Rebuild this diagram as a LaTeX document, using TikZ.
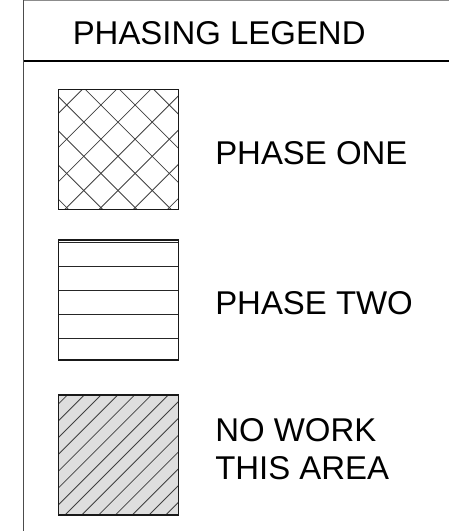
\documentclass[tikz,border=0pt]{standalone}
\usepackage{fontspec}
\setmainfont{Liberation Sans}
\begin{document}
\begin{tikzpicture}[x=0.75pt,y=-0.75pt,
  lbl/.style={anchor=base west,inner sep=0pt,font=\fontsize{24.7}{28.5}\selectfont},
  frameline/.style={draw=black!70,line width=0.8pt},
  keybox/.style={draw=black!90,line width=0.9pt},
  hatchline/.style={draw=black!75,line width=0.6pt}]
\useasboundingbox (0,0) rectangle (449,531);
% frame
\coordinate (tl) at (23.5,0.5);
\coordinate (tr) at (449,0.5);
\coordinate (bl) at (23.5,531);
\coordinate (ml) at (23.5,61);
\coordinate (mr) at (449,61);
\draw[frameline,draw=black!45] (tl) -- (tr);
\draw[frameline] (tl) -- (bl);
\draw[draw=black,line width=0.9pt] (ml) -- (mr);
\node[lbl] (title) at (72.5,45) {PHASING LEGEND};
% box 1: cross hatch
\begin{scope}
\clip (58.3,89.3) rectangle (178.3,209.3);
\foreach \k in {-6,...,6} {
  \draw[hatchline] (0,{38.3+34.2*\k}) -- (300,{338.3+34.2*\k});
  \draw[hatchline] (0,{171.7+34.2*\k}) -- (300,{-128.3+34.2*\k});
}
\end{scope}
\node[keybox,minimum size=90pt,inner sep=0pt] (b1) at (118.3,149.3) {};
\node[lbl] (t1) at (215,164) {PHASE ONE};
% box 2: horizontal lines
\foreach \yy in {242.3,266.3,290.3,314.3,338.3} {
  \draw[hatchline,draw=black!85,line width=0.8pt] (58.3,\yy) -- (178.3,\yy);
}
\node[keybox,minimum size=90pt,inner sep=0pt] (b2) at (118.3,300) {};
\node[lbl] (t2) at (215,314) {PHASE TWO};
% box 3: grey with diagonal hatch
\fill[black!13] (58.3,395) rectangle (178.3,515);
\begin{scope}
\clip (58.3,395) rectangle (178.3,515);
\foreach \k in {-12,...,12} {
  \draw[hatchline] (0,{580+16.8*\k}) -- (300,{280+16.8*\k});
}
\end{scope}
\node[keybox,minimum size=90pt,inner sep=0pt] (b3) at (118.3,455) {};
\node[lbl] (t3a) at (215,441) {NO WORK};
\node[lbl] (t3b) at (215,479) {THIS AREA};
\end{tikzpicture}
\end{document}
